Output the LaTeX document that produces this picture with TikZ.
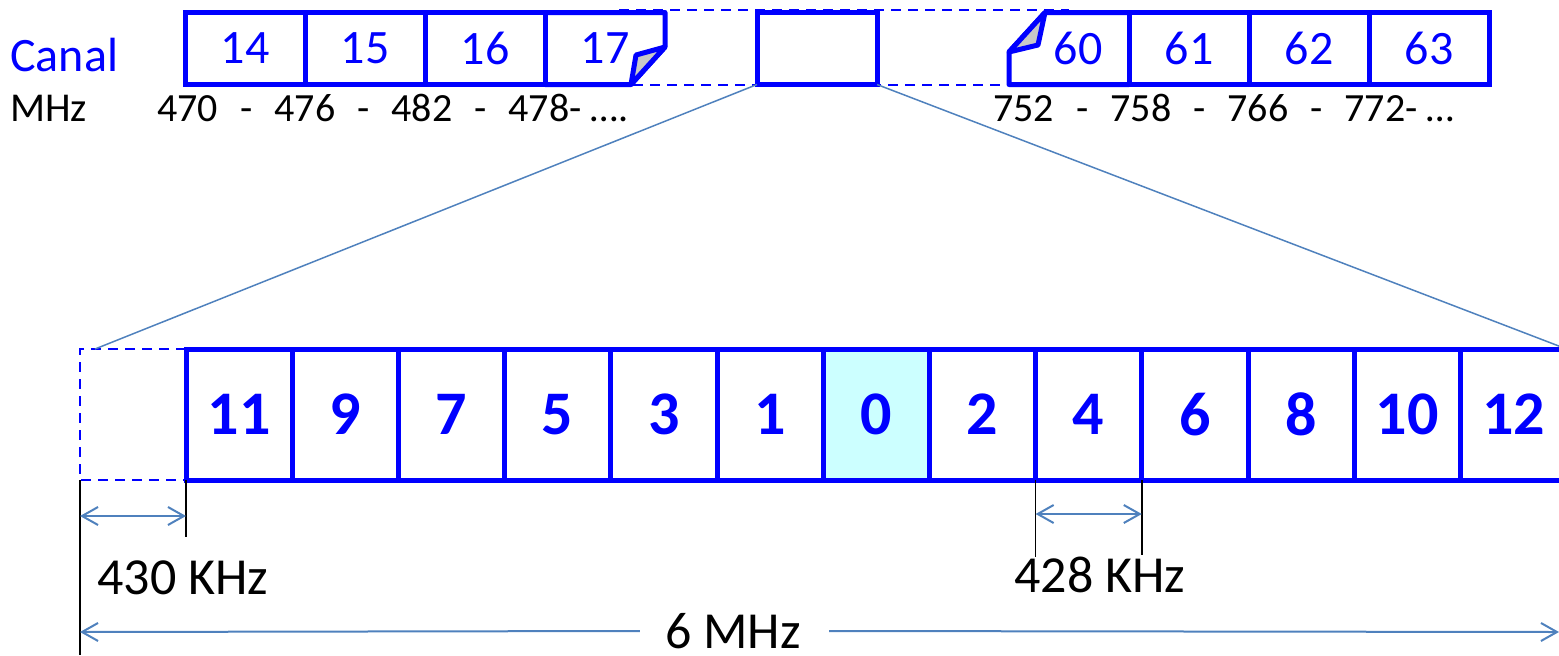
\documentclass[tikz,border=0pt]{standalone}
\usepackage{fontspec}
\setmainfont{Carlito}
\usetikzlibrary{positioning,arrows.meta}
\definecolor{canalblue}{RGB}{0,0,255}
\definecolor{steel}{RGB}{79,129,189}
\definecolor{pilot}{RGB}{204,255,255}
\definecolor{flap}{RGB}{200,200,200}
\newcommand{\fsep}{\hspace{11pt}-\hspace{11pt}}

\begin{document}
\begin{tikzpicture}[x=0.5pt,y=-0.5pt,
    canal/.style={draw=canalblue, line width=2.5pt, minimum width=60pt,
       minimum height=36pt, outer sep=0pt, inner sep=0pt, text=canalblue,
       font=\fontsize{24}{28}\selectfont},
    seg/.style={draw=canalblue, line width=2.5pt, minimum width=53.1pt,
       minimum height=65.5pt, outer sep=0pt, inner sep=0pt, text=canalblue,
       font=\fontsize{31}{36}\selectfont\bfseries},
    guide/.style={draw=canalblue, line width=1pt, dash pattern=on 5pt off 3.5pt},
    fold/.style={draw=canalblue, line width=2.5pt, line join=round},
    zoomline/.style={draw=steel, line width=0.75pt},
    dimline/.style={draw=steel, line width=1pt},
    tick/.style={draw=black, line width=0.8pt},
    freq/.style={font=\fontsize{20}{24}\selectfont, inner sep=0pt, anchor=west},
    dimlabel/.style={font=\fontsize{26}{30}\selectfont, inner sep=0pt},
    >={Straight Barb[length=8pt,width=9pt]}]

\useasboundingbox (0,0) rectangle (1559,655);

% canales UHF
\node[text=canalblue, font=\fontsize{24}{28}\selectfont, inner sep=0pt, anchor=west] (canal) at (10,55) {Canal};
\node[freq, font=\fontsize{20.5}{24}\selectfont] (mhz) at (10,108) {MHz};

\node[canal] (c14) at (245,48.5) {14};
\node[canal, right=0pt of c14] (c15) {15};
\node[canal, right=0pt of c15] (c16) {16};
\node[canal, draw=none, right=0pt of c16] (c17) {17};
\draw[fold] (c16.north east) -- (665,12.5) -- (665,47) -- (631,84.5) -- (c16.south east);
\draw[fold, fill=flap] (665,47) -- (636,55) -- (631,84.5) -- cycle;

\node[canal] (gap) at (817,48.5) {};

\node[canal, draw=none] (c60) at (1069,48.5) {\hspace{9pt}60};
\node[canal, right=0pt of c60] (c61) {61};
\node[canal, right=0pt of c61] (c62) {62};
\node[canal, right=0pt of c62] (c63) {63};
\draw[fold] (c61.north west) -- (1045,12.5) -- (1009,52) -- (1009,84.5) -- (c61.south west);
\draw[fold, fill=flap] (1045,12.5) -- (1038,45) -- (1009,52) -- cycle;

\draw[guide] (619,9.5) -- (1069,9.5);
\draw[guide] (633,85) -- (1009,85);

\node[freq] (flow) at (157,108) {470\fsep476\fsep482\fsep478- ….};
\node[freq] (fhigh) at (993,108) {752\fsep758\fsep766\fsep772- …};

% segmentos
\foreach \lab/\bg [count=\i] in {11/white,9/white,7/white,5/white,3/white,1/white,
    0/pilot,2/white,4/white,6/white,8/white,10/white,12/white}
  \node[seg, fill=\bg] (b\i) at ({239.1+(\i-1)*106.2},414.5) {\lab};

\draw[guide] (b1.north west) -- (80,349) -- (80,480) -- (b1.south west);
\coordinate (pad) at (80,480);
\coordinate (zl) at (95,349);

\draw[zoomline] (gap.south west) -- (zl);
\draw[zoomline] (gap.south east) -- (b13.north east);

% medidas
\draw[tick] (pad) -- ++(0,175);
\draw[tick] (b1.south west) -- ++(0,57);
\draw[dimline, <->] ([yshift=-18pt]pad) -- ([yshift=-18pt]b1.south west);
\node[dimlabel, anchor=west] (w430) at (97,578) {430 KHz};

\draw[tick] (b9.south west) -- ++(0,77);
\draw[tick] (b9.south east) -- ++(0,75);
\draw[dimline, <->] ([yshift=-17pt]b9.south west) -- ([yshift=-17pt]b9.south east);
\node[dimlabel] (w428) at (1100,575) {428 KHz};

\node[dimlabel] (w6) at (733,631) {6 MHz};
\draw[dimline, ->] ([xshift=-12.5pt]w6.west) -- (80,632);
\draw[dimline, ->] ([xshift=14pt]w6.east) -- (1559,632);

\end{tikzpicture}
\end{document}
